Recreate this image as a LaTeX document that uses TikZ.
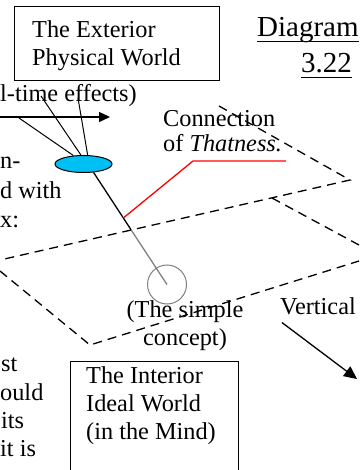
\documentclass[tikz,border=0pt]{standalone}
\usepackage{fontspec}
\setmainfont{Liberation Serif}
\usetikzlibrary{arrows.meta, positioning, shapes.geometric}
\newcommand{\worldfont}{\fontsize{24.3}{28}\selectfont}
\newcommand{\titlefont}{\fontsize{29}{35}\selectfont}
\definecolor{spotblue}{RGB}{0,191,243}
\tikzset{
  worldbox/.style={rectangle, draw=black, line width=1.3pt, anchor=north west, inner sep=0pt},
  txt/.style={inner sep=0pt, font=\worldfont, align=left},
  planeedge/.style={dash pattern=on 9pt off 6pt, line width=1.3pt},
  arrow/.style={-{Triangle[length=11pt, width=10pt]}, line width=1.3pt},
  bigarrow/.style={-{Triangle[length=13pt, width=12pt]}, line width=1.3pt},
  spoke/.style={line width=1pt},
}

\begin{document}
\begin{tikzpicture}[x=1pt, y=-1pt]
  \clip (0,0) rectangle (359,470);

  % Exterior world
  \node[worldbox, minimum width=205pt, minimum height=74pt] (exterior) at (14,6) {};
  \node[txt, anchor=north west] (exteriortext) at (32,20.4) {The Exterior\\Physical World};

  % Title
  \node[txt, font=\titlefont, anchor=base west] (diag) at (257,37) {Diagram};
  \node[txt, font=\titlefont, anchor=base west] (num) at (301,73) {3.22};
  \draw[line width=1.2pt] ([yshift=-4.5pt]diag.base west) -- ([yshift=-4.5pt]diag.base east);
  \draw[line width=1.2pt] ([yshift=-4.5pt]num.base west) -- ([yshift=-4.5pt]num.base east);

  % Real-time effects
  \node[txt, anchor=base west] (effects) at (0,102) {l-time effects)};
  \coordinate (effstart) at (0,117);
  \coordinate (efftip) at (110,117);
  \draw[arrow] (effstart) -- (efftip);

  % Spot and its spokes
  \node[ellipse, draw=black, line width=1pt, fill=spotblue, minimum width=57pt,
        minimum height=17pt, inner sep=0pt] (spot) at (83.5,164) {};
  \coordinate (eff1) at (19,118);
  \coordinate (eff2) at (41,96);
  \coordinate (eff3) at (78,98);
  \draw[spoke] (eff1) -- (spot.140);
  \draw[spoke] (eff2) -- (spot.106);
  \draw[spoke] (eff3) -- (spot.65);

  % Left fragments
  \node[txt, anchor=base west] (frag1) at (0,169) {n-};
  \node[txt, anchor=base west] (frag2) at (0,198) {d with};
  \node[txt, anchor=base west] (frag3) at (0,227) {x:};

  % Connection of Thatness
  \node[txt, anchor=base west] (con1) at (163,127) {Connection};
  \node[txt, anchor=base west] (con2) at (163,152) {of \textit{Thatness.}};

  % Planes
  \coordinate (p1) at (219,106);
  \coordinate (p2) at (350,180);
  \coordinate (p3) at (0,260);
  \coordinate (p4) at (272,198);
  \coordinate (p5) at (359,245);
  \coordinate (p6) at (0,271);
  \coordinate (p7) at (90,345);
  \coordinate (p8) at (359,261);
  \draw[planeedge] (p1) -- (p2) -- (p3);
  \draw[planeedge] (p4) -- (p5);
  \draw[planeedge] (p6) -- (p7) -- (p8);

  % Stick down to the simple concept
  \node[circle, draw=gray, line width=1pt, minimum size=39pt, inner sep=0pt] (simple) at (167,284.5) {};
  \coordinate (redfoot) at (123.3,218);
  \coordinate (crossing) at (131.2,230);
  \draw[line width=1.3pt] (spot.-40) -- (crossing);
  \draw[gray, line width=1.3pt] (crossing) -- (simple.center);
  \coordinate (redknee) at (193,161);
  \coordinate (redend) at (286,161);
  \draw[red, line width=1.3pt] (redfoot) -- (redknee) -- (redend);

  \node[txt, anchor=base] (simple1) at (185,317) {(The simple};
  \node[txt, anchor=base] (simple2) at (185,345) {concept)};

  % Vertical
  \node[txt, anchor=base west] (vert) at (280,314) {Vertical};
  \coordinate (vtip) at (357,379);
  \draw[bigarrow] ([xshift=2pt, yshift=-8pt]vert.south west) -- (vtip);

  % Bottom fragments
  \node[txt, anchor=base west] (frag4) at (1,371) {st};
  \node[txt, anchor=base west] (frag5) at (0,400) {ould};
  \node[txt, anchor=base west] (frag6) at (1,428) {its};
  \node[txt, anchor=base west] (frag7) at (0,456) {it is};

  % Interior world
  \node[worldbox, minimum width=168pt, minimum height=130pt] (interior) at (70,361) {};
  \node[txt, anchor=north west] (interiortext) at (86,366.4) {The Interior\\Ideal World\\(in the Mind)};
\end{tikzpicture}
\end{document}
